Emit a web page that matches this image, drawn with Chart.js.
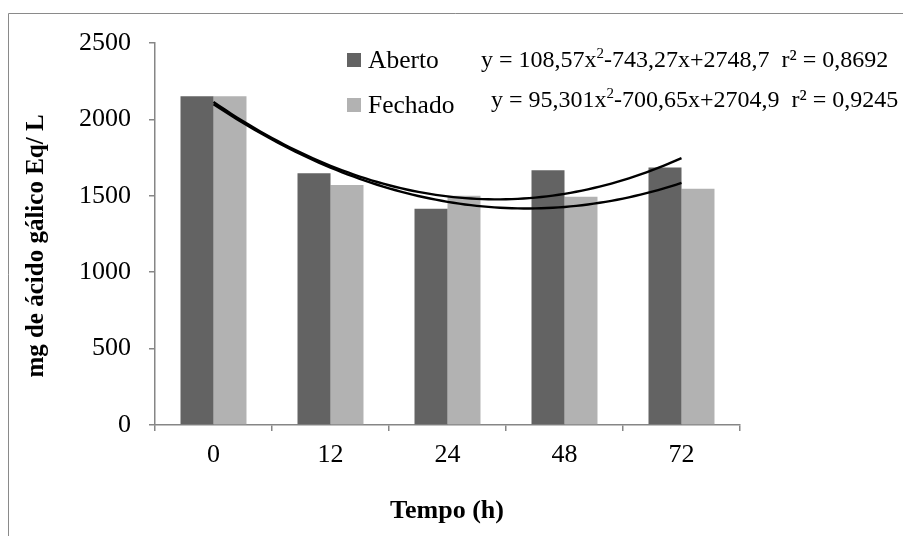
<!DOCTYPE html>
<html>
<head>
<meta charset="utf-8">
<script src="https://cdn.jsdelivr.net/npm/chart.js@4.4.1/dist/chart.umd.min.js"></script>
<style>
  html, body { margin: 0; padding: 0; background: #fff; }
  #grafico { display: block; }
</style>
</head>
<body>
<canvas id="grafico" width="903" height="536"></canvas>
<script>
// Tempos de coleta (h)
const tempos = ['0', '12', '24', '48', '72'];
// mg de ácido gálico Eq/L
const aberto = [2152, 1648, 1416, 1668, 1686];
const fechado = [2152, 1570, 1500, 1493, 1546];
// Coeficientes da tendência polinomial y = a·x² + b·x + c (x = 1..5)
const coefAberto = [108.57, -743.27, 2748.7];
const coefFechado = [95.301, -700.65, 2704.9];
// Texto das equações: antes do expoente, expoente, depois do expoente
const eqAberto = ['y = 108,57x', '2', '-743,27x+2748,7  r² = 0,8692'];
const eqFechado = ['y = 95,301x', '2', '-700,65x+2704,9  r² = 0,9245'];
const yTicks = [0, 500, 1000, 1500, 2000, 2500];

const corAberto = '#636363';
const corFechado = '#b2b2b2';
const corEixo = '#868686';
const fonte = "'Liberation Serif', 'Times New Roman', serif";

// Cada tempo ocupa a posição 1..5 no eixo x (como no Excel)
function pontos(valores) {
    return valores.map((v, i) => ({ x: i + 1, y: v }));
}

// Pontos da curva de tendência, a partir dos coeficientes
function curva(coef) {
    const pts = [];
    for (let i = 0; i <= 80; i++) {
        const x = 1 + i * 0.05;
        pts.push({ x: x, y: coef[0] * x * x + coef[1] * x + coef[2] });
    }
    return pts;
}

// Legenda, equações, títulos dos eixos e moldura
const extras = {
    id: 'extras',
    afterDraw(chart) {
        const ctx = chart.ctx;
        ctx.save();

        // moldura (só aparecem o lado esquerdo e o topo)
        ctx.strokeStyle = '#8a8a8a';
        ctx.lineWidth = 1;
        ctx.beginPath();
        ctx.moveTo(8.5, 536);
        ctx.lineTo(8.5, 13.5);
        ctx.lineTo(903, 13.5);
        ctx.stroke();

        // legenda
        ctx.fillStyle = corAberto;
        ctx.fillRect(347, 53, 14, 14);
        ctx.fillStyle = corFechado;
        ctx.fillRect(347, 98, 14, 14);
        ctx.fillStyle = '#000';
        ctx.textBaseline = 'alphabetic';
        ctx.textAlign = 'left';
        ctx.font = '25.5px ' + fonte;
        ctx.fillText('Aberto', 368, 68);
        ctx.fillText('Fechado', 368, 113);

        // equações
        function equacao(partes, x, y) {
            ctx.font = '24px ' + fonte;
            ctx.fillText(partes[0], x, y);
            x += ctx.measureText(partes[0]).width;
            ctx.font = '15px ' + fonte;
            ctx.fillText(partes[1], x, y - 9);
            x += ctx.measureText(partes[1]).width;
            ctx.font = '24px ' + fonte;
            ctx.fillText(partes[2], x, y);
        }
        equacao(eqAberto, 481, 67);
        equacao(eqFechado, 491, 107);

        // títulos dos eixos
        ctx.font = 'bold 26px ' + fonte;
        ctx.textAlign = 'center';
        ctx.textBaseline = 'middle';
        ctx.fillText('Tempo (h)', 447, 511);
        ctx.font = 'bold 25px ' + fonte;
        ctx.translate(37, 246);
        ctx.rotate(-Math.PI / 2);
        ctx.fillText('mg de ácido gálico Eq/ L', 0, 0);

        ctx.restore();
    }
};

new Chart(document.getElementById('grafico'), {
    type: 'bar',
    data: {
        datasets: [
            {
                label: 'Aberto',
                data: pontos(aberto),
                backgroundColor: corAberto,
                borderWidth: 0,
                categoryPercentage: 0.564,
                barPercentage: 1.0,
                order: 2
            },
            {
                label: 'Fechado',
                data: pontos(fechado),
                backgroundColor: corFechado,
                borderWidth: 0,
                categoryPercentage: 0.564,
                barPercentage: 1.0,
                order: 2
            },
            {
                type: 'line',
                label: 'Tendência Aberto',
                data: curva(coefAberto),
                borderColor: '#000',
                borderWidth: 2.4,
                pointRadius: 0,
                fill: false,
                order: 0
            },
            {
                type: 'line',
                label: 'Tendência Fechado',
                data: curva(coefFechado),
                borderColor: '#000',
                borderWidth: 2.4,
                pointRadius: 0,
                fill: false,
                order: 0
            }
        ]
    },
    options: {
        responsive: false,
        animation: false,
        layout: {
            padding: { left: 0, top: 43, right: 163, bottom: 0 }
        },
        plugins: {
            legend: { display: false },
            tooltip: { enabled: false }
        },
        scales: {
            x: {
                type: 'linear',
                min: 0.5,
                max: 5.5,
                offset: false,
                afterFit: s => { s.height = 111; },
                afterBuildTicks: s => { s.ticks = tempos.map((t, i) => ({ value: i + 1 })); },
                border: { color: corEixo, width: 1.5 },
                grid: {
                    offset: true,
                    drawOnChartArea: false,
                    drawTicks: true,
                    tickLength: 6,
                    color: corEixo,
                    lineWidth: 1.5
                },
                ticks: {
                    color: '#000',
                    padding: 9,
                    font: { family: fonte, size: 26 },
                    callback: v => tempos[v - 1]
                }
            },
            y: {
                min: 0,
                max: 2500,
                afterFit: s => { s.width = 155; },
                afterBuildTicks: s => { s.ticks = yTicks.map(v => ({ value: v })); },
                border: { color: corEixo, width: 1.5 },
                grid: {
                    drawOnChartArea: false,
                    drawTicks: true,
                    tickLength: 6,
                    color: corEixo,
                    lineWidth: 1.5
                },
                ticks: {
                    color: '#000',
                    padding: 18,
                    font: { family: fonte, size: 26 },
                    callback: v => String(v)
                }
            }
        }
    },
    plugins: [extras]
});
</script>
</body>
</html>
